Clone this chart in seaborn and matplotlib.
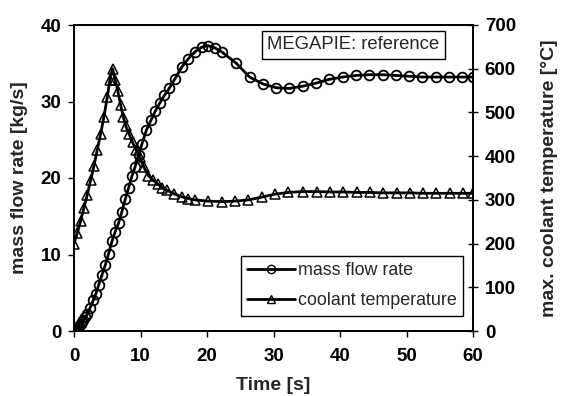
import matplotlib
matplotlib.use("Agg")
import matplotlib.pyplot as plt
import seaborn as sns
import pandas as pd
from matplotlib.lines import Line2D

sns.set_theme(style="white")
plt.rcParams['font.family'] = ['Liberation Sans', 'DejaVu Sans']

# ---- data ----
time_flow = [0, 0.2, 0.4, 0.6, 0.8, 1.0, 1.2, 1.4, 1.7, 2.0, 2.4, 2.9, 3.3, 3.7, 4.2,
             4.7, 5.2, 5.7, 6.2, 6.7, 7.2, 7.7, 8.2, 8.7, 9.2, 9.7, 10.2, 10.9, 11.6,
             12.2, 12.9, 13.6, 14.3, 15.2, 16.2, 17.2, 18.2, 19.2, 20.2, 21.2, 22.2,
             24.4, 26.4, 28.4, 30.4, 32.4, 34.4, 36.4, 38.4, 40.4, 42.4, 44.4, 46.4,
             48.4, 50.4, 52.4, 54.4, 56.4, 58.4, 60]
mass_flow = [0.0, 0.1, 0.3, 0.5, 0.7, 0.9, 1.2, 1.4, 1.8, 2.2, 3.0, 4.0, 4.9, 6.0, 7.3,
             8.6, 10.1, 11.7, 13.0, 14.1, 15.6, 17.2, 18.7, 20.2, 21.5, 23.0, 24.4, 26.3,
             27.6, 28.7, 29.8, 30.8, 31.7, 33.0, 34.5, 35.6, 36.5, 37.1, 37.3, 37.0, 36.5,
             35.0, 33.2, 32.3, 31.8, 31.7, 32.0, 32.4, 32.9, 33.2, 33.4, 33.5, 33.5,
             33.4, 33.3, 33.2, 33.2, 33.2, 33.2, 33.2]

time_temp = [0, 0.5, 1.0, 1.5, 2.0, 2.5, 3.0, 3.5, 4.0, 4.5, 5.0, 5.4, 5.8, 6.2, 6.6,
             7.0, 7.4, 7.8, 8.3, 8.8, 9.3, 9.9, 10.5, 11.2, 11.9, 12.6, 13.3, 14.0,
             15.0, 16.2, 17.2, 18.2, 20.2, 22.2, 24.2, 26.2, 28.2, 30.2, 32.2, 34.5,
             36.5, 38.5, 40.5, 42.5, 44.5, 46.5, 48.5, 50.5, 52.5, 54.5, 56.5, 58.5, 60]
coolant_temp = [200, 225, 252, 282, 312, 345, 378, 415, 450, 490, 535, 575, 600, 575, 548,
                518, 490, 468, 450, 432, 415, 398, 375, 355, 345, 336, 328, 322,
                314, 307, 303, 300, 297, 296, 297, 300, 306, 313, 317, 319,
                319, 318, 318, 317, 317, 316, 316, 316, 315, 315, 315, 315, 315]

x_ticks = [0, 10, 20, 30, 40, 50, 60]
left_ticks = [0, 10, 20, 30, 40]
right_ticks = [0, 100, 200, 300, 400, 500, 600, 700]

df_flow = pd.DataFrame({"t": time_flow, "m": mass_flow})
df_temp = pd.DataFrame({"t": time_temp, "T": coolant_temp})

fig = plt.figure(figsize=(5.63, 3.96), dpi=100)
ax1 = fig.add_axes([74 / 563, 1 - 331 / 396, (473 - 74) / 563, (331 - 25) / 396])
ax2 = ax1.twinx()

lw = 2.0
ms = 7
sns.lineplot(data=df_flow, x="t", y="m", ax=ax1, color="black", linewidth=lw,
             marker="o", markersize=ms, markerfacecolor="none",
             markeredgecolor="black", markeredgewidth=1.3, sort=False)
sns.lineplot(data=df_temp, x="t", y="T", ax=ax2, color="black", linewidth=lw,
             marker="^", markersize=ms, markerfacecolor="none",
             markeredgecolor="black", markeredgewidth=1.1, sort=False)

ax1.set_xlim(0, 60)
ax1.set_ylim(0, 40)
ax2.set_ylim(0, 700)
ax1.set_xticks(x_ticks)
ax1.set_yticks(left_ticks)
ax2.set_yticks(right_ticks)

tfs = 13.5
lfs = 14
ax1.tick_params(axis="both", direction="out", length=4, width=1, colors="black",
                labelsize=tfs, pad=5, bottom=True, left=True)
ax1.tick_params(axis="x", pad=8)
ax2.tick_params(axis="y", direction="inout", length=7, width=1, colors="black",
                labelsize=tfs, pad=5, right=True)
for lab in ax1.get_xticklabels() + ax1.get_yticklabels() + ax2.get_yticklabels():
    lab.set_fontweight("bold")

ax1.set_xlabel("Time [s]", fontsize=lfs, fontweight="bold", labelpad=9)
ax1.set_ylabel("mass flow rate [kg/s]", fontsize=lfs, fontweight="bold", labelpad=9)
ax2.set_ylabel("max. coolant temperature [°C]", fontsize=lfs, fontweight="bold", labelpad=18)

for ax in (ax1, ax2):
    for s in ax.spines.values():
        s.set_color("black")
        s.set_linewidth(1.3)
ax1.grid(False)
ax2.grid(False)

handles = [
    Line2D([], [], color="black", linewidth=lw, marker="o", markersize=ms - 1,
           markerfacecolor="none", markeredgecolor="black"),
    Line2D([], [], color="black", linewidth=lw, marker="^", markersize=ms - 1,
           markerfacecolor="none", markeredgecolor="black"),
]
leg = ax1.legend(handles, ["mass flow rate", "coolant temperature"],
                 loc="lower right", bbox_to_anchor=(0.975, 0.05),
                 fontsize=12.9, frameon=True, fancybox=False, framealpha=1,
                 edgecolor="black", handlelength=2.7, handletextpad=0.15,
                 borderpad=0.35, labelspacing=0.75, borderaxespad=0)
leg.get_frame().set_linewidth(1.0)

ax1.text(0.70, 0.935, "MEGAPIE: reference", transform=ax1.transAxes,
         fontsize=13.3, ha="center", va="center",
         bbox=dict(boxstyle="square,pad=0.3", facecolor="white",
                   edgecolor="black", linewidth=1.0))

fig.savefig("out.png", dpi=100)
